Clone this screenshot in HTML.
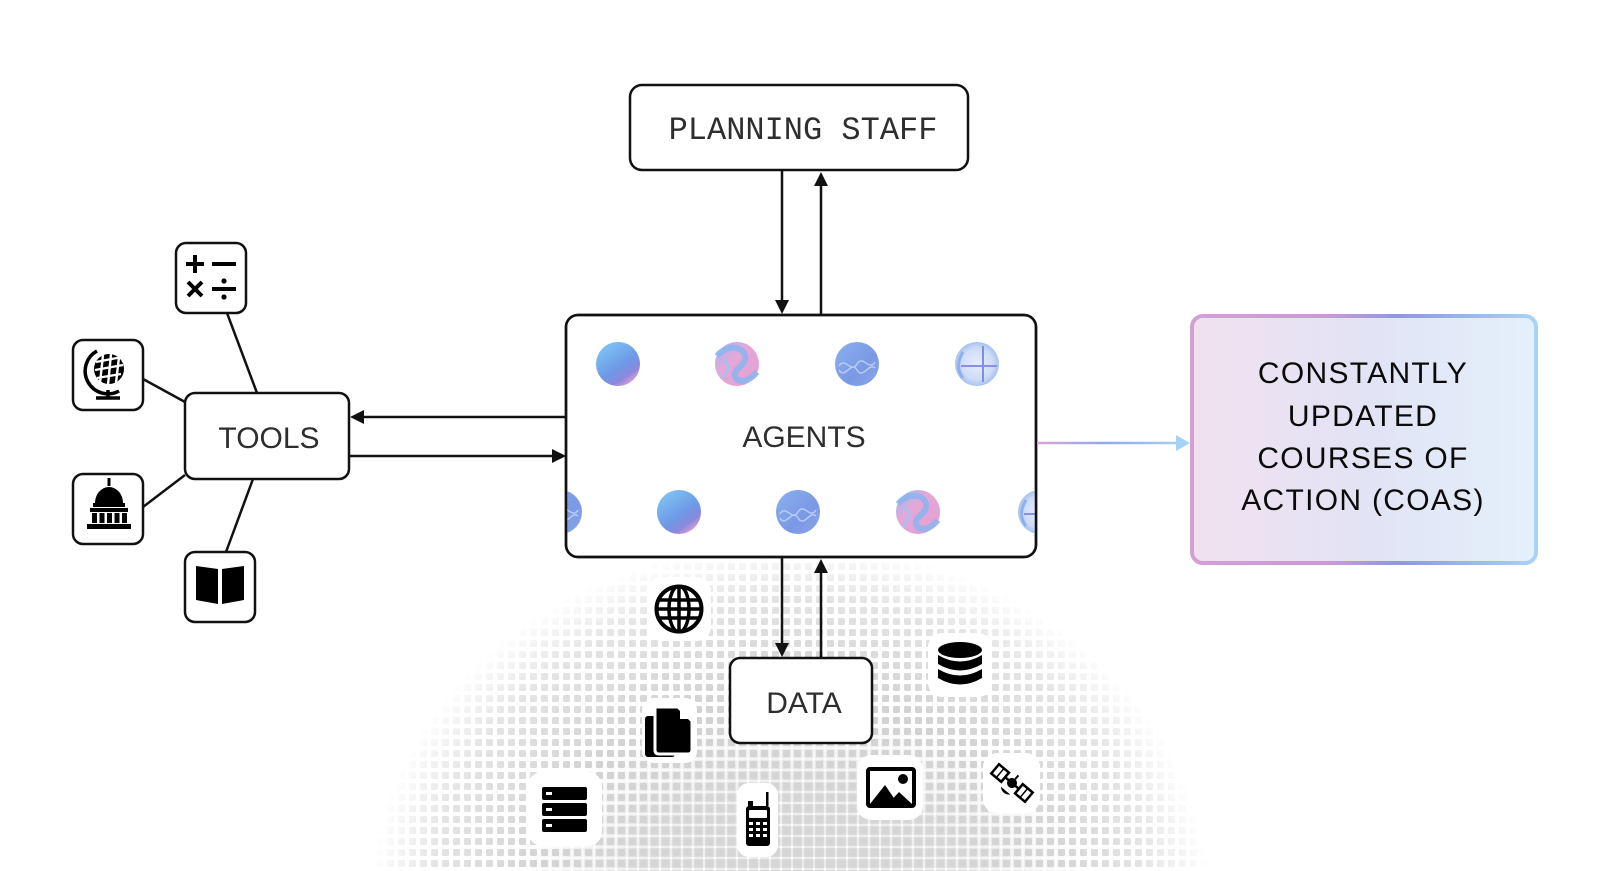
<!DOCTYPE html>
<html>
<head>
<meta charset="utf-8">
<style>
  html,body{margin:0;padding:0;background:#fff;}
  svg{display:block;}
  .lbl{font-family:"Liberation Sans",Arial,sans-serif;font-size:30px;fill:#2e2e2e;}
  .mono{font-family:"Liberation Mono","DejaVu Sans Mono",monospace;font-size:32px;fill:#2e2e2e;}
  .coa{font-family:"Liberation Sans",Arial,sans-serif;font-size:30px;fill:#0a0a0a;letter-spacing:1.3px;}
</style>
</head>
<body>
<svg width="1600" height="871" viewBox="0 0 1600 871" xmlns="http://www.w3.org/2000/svg">
  <defs>
    <pattern id="dotsA" width="11" height="11" patternUnits="userSpaceOnUse">
      <rect x="2" y="2" width="7" height="7" rx="1.2" fill="#cfcfcf"/>
    </pattern>
    <pattern id="dotsB" width="11" height="11" patternUnits="userSpaceOnUse">
      <rect x="0.5" y="0.5" width="10" height="10" rx="1.5" fill="#d6d6d6"/>
    </pattern>
    <radialGradient id="mA" gradientUnits="userSpaceOnUse" cx="790" cy="900" r="420"
      gradientTransform="translate(790 900) scale(1 0.85) translate(-790 -900)">
      <stop offset="0" stop-color="#fff"/>
      <stop offset="0.6" stop-color="#e8e8e8"/>
      <stop offset="0.85" stop-color="#909090"/>
      <stop offset="1" stop-color="#000"/>
    </radialGradient>
    <radialGradient id="mB" gradientUnits="userSpaceOnUse" cx="800" cy="885" r="290"
      gradientTransform="translate(800 885) scale(1 0.62) translate(-800 -885)">
      <stop offset="0" stop-color="#fff"/>
      <stop offset="0.55" stop-color="#c8c8c8"/>
      <stop offset="1" stop-color="#000"/>
    </radialGradient>
    <mask id="maskA"><rect x="0" y="0" width="1600" height="871" fill="url(#mA)"/></mask>
    <mask id="maskB"><rect x="0" y="0" width="1600" height="871" fill="url(#mB)"/></mask>

    <linearGradient id="coaBg" x1="0" y1="0" x2="1" y2="0">
      <stop offset="0" stop-color="#f1e1f0"/>
      <stop offset="0.5" stop-color="#e2e3f5"/>
      <stop offset="1" stop-color="#e3f0fb"/>
    </linearGradient>
    <linearGradient id="coaBorder" x1="0" y1="0" x2="1" y2="0">
      <stop offset="0" stop-color="#d3a0d4"/>
      <stop offset="0.4" stop-color="#c99ad6"/>
      <stop offset="0.6" stop-color="#8e97e2"/>
      <stop offset="1" stop-color="#a9d3f3"/>
    </linearGradient>
    <linearGradient id="arrowG" gradientUnits="userSpaceOnUse" x1="1037" y1="0" x2="1180" y2="0">
      <stop offset="0" stop-color="#dba5d7"/>
      <stop offset="0.5" stop-color="#8fa9ea"/>
      <stop offset="1" stop-color="#a4d3f3"/>
    </linearGradient>

    <linearGradient id="s1" x1="0.2" y1="0.1" x2="0.8" y2="0.95">
      <stop offset="0" stop-color="#7cc0f3"/>
      <stop offset="0.55" stop-color="#6e98e6"/>
      <stop offset="0.8" stop-color="#8c88dc"/>
      <stop offset="1" stop-color="#e2a0d3"/>
    </linearGradient>
    <linearGradient id="s2" x1="0" y1="0" x2="1" y2="1">
      <stop offset="0" stop-color="#9bbbef"/>
      <stop offset="0.4" stop-color="#e4a8d8"/>
      <stop offset="1" stop-color="#e39ed2"/>
    </linearGradient>
    <linearGradient id="s3" x1="0" y1="0" x2="1" y2="1">
      <stop offset="0" stop-color="#89b2ee"/>
      <stop offset="0.6" stop-color="#7b98e4"/>
      <stop offset="1" stop-color="#8aa6ea"/>
    </linearGradient>
    <radialGradient id="s4" cx="0.5" cy="0.5" r="0.5">
      <stop offset="0" stop-color="#e6eefb"/>
      <stop offset="0.7" stop-color="#cfdcf6"/>
      <stop offset="1" stop-color="#a9c2f0"/>
    </radialGradient>

    <g id="sph1"><circle r="22" fill="url(#s1)"/></g>
    <g id="sph2">
      <circle r="22" fill="url(#s2)"/>
      <path d="M-20,-8 C-10,-20 6,-18 8,-8 C10,2 -4,4 -2,12 C0,20 12,18 20,8" fill="none" stroke="#8fb4ee" stroke-width="6" opacity="0.9"/>
      <path d="M-16,14 C-8,8 -6,0 -14,-4" fill="none" stroke="#9ec4f2" stroke-width="3" opacity="0.8"/>
    </g>
    <g id="sph3">
      <circle r="22" fill="url(#s3)"/>
      <path d="M-18,2 C-12,-8 -6,10 0,0 C6,-10 12,8 18,-2" fill="none" stroke="#b7cdf5" stroke-width="1.5"/>
      <path d="M-18,6 C-12,16 -6,-4 0,6 C6,16 12,-2 18,4" fill="none" stroke="#b7cdf5" stroke-width="1.5"/>
    </g>
    <g id="sph4">
      <circle r="22" fill="url(#s4)"/>
      <line x1="6" y1="-18" x2="6" y2="18" stroke="#7f8fe0" stroke-width="2"/>
      <line x1="-16" y1="2" x2="20" y2="2" stroke="#8a90de" stroke-width="2"/>
      <path d="M-14,-12 C-20,-2 -20,6 -14,14" fill="none" stroke="#8fb0ee" stroke-width="3"/>
    </g>
    <clipPath id="agentClip"><rect x="567" y="316" width="468" height="240" rx="11"/></clipPath>
    <clipPath id="globeClip"><circle cx="679" cy="609" r="23"/></clipPath>
  </defs>

  <!-- halftone background -->
  <rect x="0" y="540" width="1600" height="331" fill="url(#dotsA)" mask="url(#maskA)"/>
  <rect x="0" y="600" width="1600" height="271" fill="url(#dotsB)" mask="url(#maskB)"/>

  <!-- tool connectors -->
  <g stroke="#111" stroke-width="2.5" fill="none">
    <line x1="227" y1="313" x2="257" y2="393"/>
    <line x1="143" y1="379" x2="185" y2="402"/>
    <line x1="143" y1="507" x2="185" y2="475"/>
    <line x1="226" y1="552" x2="253" y2="479"/>
  </g>

  <!-- planning staff -->
  <rect x="630" y="85" width="338" height="85" rx="12" fill="#fff" stroke="#111" stroke-width="2.5"/>
  <text class="mono" x="803" y="139" text-anchor="middle">PLANNING STAFF</text>

  <!-- arrows -->
  <g stroke="#111" stroke-width="2.5">
    <line x1="782" y1="170" x2="782" y2="302"/>
    <line x1="821" y1="184" x2="821" y2="315"/>
    <line x1="782" y1="557" x2="782" y2="645"/>
    <line x1="821" y1="571" x2="821" y2="658"/>
    <line x1="362" y1="417" x2="566" y2="417"/>
    <line x1="349" y1="456" x2="554" y2="456"/>
  </g>
  <g fill="#111">
    <polygon points="775,300 789,300 782,314"/>
    <polygon points="814,186 828,186 821,172"/>
    <polygon points="775,643 789,643 782,657"/>
    <polygon points="814,573 828,573 821,559"/>
    <polygon points="364,410 364,424 350,417"/>
    <polygon points="552,449 552,463 566,456"/>
  </g>

  <!-- agents -->
  <rect x="566" y="315" width="470" height="242" rx="12" fill="#fff" stroke="#111" stroke-width="2.5"/>
  <g>
    <use href="#sph1" x="618" y="364"/>
    <use href="#sph2" x="737" y="364"/>
    <use href="#sph3" x="857" y="364"/>
    <use href="#sph4" x="977" y="364"/>
  </g>
  <g clip-path="url(#agentClip)">
    <use href="#sph3" x="560" y="512"/>
    <use href="#sph1" x="679" y="512"/>
    <use href="#sph3" x="798" y="512"/>
    <use href="#sph2" x="918" y="512"/>
    <use href="#sph4" x="1040" y="512"/>
  </g>
  <rect x="566" y="315" width="470" height="242" rx="12" fill="none" stroke="#111" stroke-width="2.5"/>
  <text class="lbl" x="804" y="447" text-anchor="middle">AGENTS</text>

  <!-- tools -->
  <rect x="185" y="393" width="164" height="86" rx="10" fill="#fff" stroke="#111" stroke-width="2.5"/>
  <text class="lbl" x="269" y="448" text-anchor="middle">TOOLS</text>

  <!-- tool icon boxes -->
  <g fill="#fff" stroke="#111" stroke-width="2.5">
    <rect x="176" y="243" width="70" height="70" rx="10"/>
    <rect x="73" y="340" width="70" height="70" rx="10"/>
    <rect x="73" y="474" width="70" height="70" rx="10"/>
    <rect x="185" y="552" width="70" height="70" rx="10"/>
  </g>
  <!-- calculator symbols -->
  <g stroke="#000" stroke-width="4" stroke-linecap="butt">
    <line x1="186" y1="264" x2="204" y2="264"/>
    <line x1="195" y1="255" x2="195" y2="273"/>
    <line x1="212" y1="264" x2="236" y2="264"/>
    <line x1="188" y1="282" x2="202" y2="296"/>
    <line x1="202" y1="282" x2="188" y2="296"/>
    <line x1="212" y1="289" x2="236" y2="289"/>
  </g>
  <circle cx="224" cy="281" r="2.6" fill="#000"/>
  <circle cx="224" cy="297" r="2.6" fill="#000"/>
  <!-- desk globe -->
  <g>
    <circle cx="109" cy="369" r="15" fill="#000"/>
    <g stroke="#fff" stroke-width="2.4">
      <line x1="96" y1="362" x2="122" y2="357"/>
      <line x1="95" y1="370" x2="123" y2="365"/>
      <line x1="97" y1="378" x2="121" y2="374"/>
      <line x1="103" y1="355" x2="100" y2="383"/>
      <line x1="111" y1="354" x2="108" y2="385"/>
      <line x1="119" y1="357" x2="116" y2="383"/>
    </g>
    <path d="M97,351 A21,21 0 0 0 119,391" fill="none" stroke="#000" stroke-width="3.5"/>
    <line x1="108" y1="390" x2="108" y2="397" stroke="#000" stroke-width="3.5"/>
    <line x1="96" y1="398" x2="120" y2="398" stroke="#000" stroke-width="3.5"/>
  </g>
  <!-- capitol -->
  <g fill="#000">
    <rect x="107.5" y="478" width="3" height="8"/>
    <path d="M95,503 A14,16 0 0 1 123,503 Z"/>
    <rect x="93" y="503" width="32" height="4"/>
    <rect x="90" y="508" width="38" height="4"/>
    <rect x="92" y="513" width="5" height="10"/>
    <rect x="99.5" y="513" width="5" height="10"/>
    <rect x="107" y="513" width="5" height="10"/>
    <rect x="114.5" y="513" width="5" height="10"/>
    <rect x="122" y="513" width="5" height="10"/>
    <rect x="87" y="524" width="44" height="5"/>
  </g>
  <!-- book -->
  <g fill="#000">
    <path d="M196,566 L218,569 L218,604 L196,600 Z"/>
    <path d="M222,569 L244,566 L244,600 L222,604 Z"/>
  </g>

  <!-- data icon white tiles -->
  <g fill="#fff">
    <rect x="647" y="577" width="64" height="64" rx="14"/>
    <rect x="642" y="698" width="55" height="65" rx="12"/>
    <rect x="528" y="772" width="74" height="74" rx="14"/>
    <rect x="737" y="783" width="41" height="74" rx="12"/>
    <rect x="928" y="633" width="64" height="64" rx="14"/>
    <rect x="857" y="755" width="66" height="65" rx="14"/>
    <rect x="983" y="753" width="57" height="60" rx="14"/>
  </g>

  <!-- globe (data) -->
  <g>
    <circle cx="679" cy="609" r="22.5" fill="#fff" stroke="#000" stroke-width="4"/>
    <g clip-path="url(#globeClip)" stroke="#000" stroke-width="3.5" fill="none">
      <ellipse cx="679" cy="609" rx="10" ry="23"/>
      <line x1="679" y1="585" x2="679" y2="633"/>
      <line x1="654" y1="600" x2="704" y2="600"/>
      <line x1="654" y1="609" x2="704" y2="609"/>
      <line x1="654" y1="618" x2="704" y2="618"/>
    </g>
  </g>
  <!-- docs -->
  <g>
    <rect x="645" y="716" width="30" height="41" rx="3" fill="#000"/>
    <path d="M655,707 L678,707 L692,721 L692,750 Q692,754 688,754 L659,754 Q655,754 655,750 Z" fill="#000" stroke="#fff" stroke-width="3"/>
    <path d="M680,709 L680,719 L690,719 Z" fill="#fff"/>
  </g>
  <!-- server -->
  <g fill="#000">
    <rect x="542" y="787" width="45" height="13" rx="2"/>
    <rect x="542" y="803" width="45" height="13" rx="2"/>
    <rect x="542" y="819" width="45" height="13" rx="2"/>
  </g>
  <g fill="#fff">
    <rect x="546" y="792" width="6" height="3"/>
    <rect x="546" y="808" width="6" height="3"/>
    <rect x="546" y="824" width="6" height="3"/>
  </g>
  <!-- radio -->
  <g fill="#000">
    <rect x="766" y="792" width="2.5" height="14"/>
    <rect x="748" y="801" width="5" height="6"/>
    <rect x="746" y="806" width="24" height="40" rx="3"/>
  </g>
  <g fill="#fff">
    <rect x="749" y="810" width="18" height="8" rx="1"/>
    <rect x="749" y="822" width="4" height="3"/><rect x="756" y="822" width="4" height="3"/><rect x="763" y="822" width="4" height="3"/>
    <rect x="749" y="828" width="4" height="3"/><rect x="756" y="828" width="4" height="3"/><rect x="763" y="828" width="4" height="3"/>
    <rect x="749" y="834" width="4" height="3"/><rect x="756" y="834" width="4" height="3"/><rect x="763" y="834" width="4" height="3"/>
  </g>
  <!-- database -->
  <g fill="#000">
    <ellipse cx="960" cy="650" rx="22" ry="8"/>
    <path d="M938,655 Q960,668 982,655 L982,664 Q960,677 938,664 Z"/>
    <path d="M938,669 Q960,682 982,669 L982,678 Q960,691 938,678 Z"/>
  </g>
  <!-- image -->
  <g>
    <rect x="868" y="769" width="46" height="37" rx="2" fill="#fff" stroke="#000" stroke-width="4"/>
    <circle cx="903" cy="779" r="5" fill="#000"/>
    <polygon points="870,804 885,785 898,804" fill="#000"/>
    <polygon points="888,804 899,792 912,804" fill="#000"/>
  </g>
  <!-- satellite -->
  <g transform="translate(1012 783) rotate(40)">
    <rect x="-22" y="-6" width="13" height="12" fill="#fff" stroke="#000" stroke-width="2.5"/>
    <line x1="-15.5" y1="-6" x2="-15.5" y2="6" stroke="#000" stroke-width="1.5"/>
    <rect x="9" y="-6" width="13" height="12" fill="#fff" stroke="#000" stroke-width="2.5"/>
    <line x1="15.5" y1="-6" x2="15.5" y2="6" stroke="#000" stroke-width="1.5"/>
    <line x1="-9" y1="0" x2="9" y2="0" stroke="#000" stroke-width="2.5"/>
    <circle cx="0" cy="0" r="5" fill="#000"/>
    <path d="M-6,6 A8,8 0 0 0 6,6 Z" fill="#000" transform="translate(0 4)"/>
    <line x1="0" y1="-5" x2="0" y2="-10" stroke="#000" stroke-width="2"/>
  </g>

  <!-- data box -->
  <rect x="730" y="658" width="142" height="85" rx="10" fill="#fff" stroke="#111" stroke-width="2.5"/>
  <text class="lbl" x="804" y="713" text-anchor="middle">DATA</text>

  <!-- COA arrow -->
  <line x1="1037" y1="443" x2="1178" y2="443" stroke="url(#arrowG)" stroke-width="2.5"/>
  <polygon points="1176,435 1190,443 1176,451" fill="#a4d3f3"/>

  <!-- COA box -->
  <rect x="1192" y="316" width="344" height="247" rx="11" fill="url(#coaBg)" stroke="url(#coaBorder)" stroke-width="4"/>
  <text class="coa" x="1363" y="383" text-anchor="middle">CONSTANTLY</text>
  <text class="coa" x="1363" y="426" text-anchor="middle">UPDATED</text>
  <text class="coa" x="1363" y="468" text-anchor="middle">COURSES OF</text>
  <text class="coa" x="1363" y="510" text-anchor="middle">ACTION (COAS)</text>
</svg>
</body>
</html>
